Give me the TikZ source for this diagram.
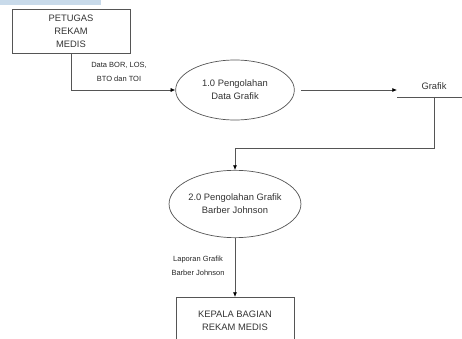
\documentclass[tikz,border=0pt]{standalone}
\usepackage{fontspec}
\setmainfont{Liberation Sans}
\usetikzlibrary{shapes.geometric, arrows.meta, positioning}
\definecolor{linegray}{HTML}{555555}
\definecolor{textgray}{HTML}{333333}
\definecolor{bandblue}{HTML}{C8DAEA}

\tikzset{
  entity/.style={draw=linegray, line width=0.6pt, minimum width=3.54cm, inner sep=0pt,
    align=center, text=textgray, font=\fontsize{8}{11}\selectfont},
  process/.style={ellipse, draw=linegray, line width=0.6pt, inner sep=0pt,
    minimum width=3.56cm, align=center, text=textgray, font=\fontsize{8}{11}\selectfont},
  flow/.style={draw=linegray, line width=0.6pt, -{Latex[length=4pt,width=3.5pt,black]}},
  flowlabel/.style={align=center, text=black!85, font=\fontsize{6.4}{12}\selectfont}
}

\begin{document}
\begin{tikzpicture}[x=0.03cm, y=-0.03cm]
  \useasboundingbox (0,0) rectangle (462,339);
  \clip (0,0) rectangle (462,339);
  % cut-off band at the top
  \fill[bandblue] (0,0) rectangle (101,5);

  % entities and processes
  \node[entity, minimum height=1.32cm] (petugas) at (71,31) {PETUGAS\\REKAM\\MEDIS};
  \node[process, minimum height=1.8cm] (p1) at (235,90) {1.0 Pengolahan\\Data Grafik};
  \node[process, minimum height=2.02cm] (p2) at (235,204) {2.0 Pengolahan Grafik\\Barber Johnson};
  \node[entity, minimum height=1.4cm, anchor=north] (kepala) at (235,297)
    {KEPALA BAGIAN\\REKAM MEDIS};

  % data store
  \node[text=textgray, font=\fontsize{8}{11}\selectfont] (grafik) at (434,86) {Grafik};
  \coordinate (storeL) at (397,97);
  \coordinate (storeR) at (462,97);
  \coordinate (storeB) at (434,97);
  \coordinate (bend) at (434,148);
  \draw[linegray, line width=0.6pt] (storeL) -- (storeR);

  % flows
  \draw[flow] (petugas.south) |- (p1.west);
  \draw[flow, shorten <=0.2cm] (p1.east) -- (storeL |- p1.east);
  \draw[flow] (storeB) -- (bend) -| (p2.north);
  \draw[flow] (p2.south) -- (kepala.north);

  % labels
  \node[flowlabel] (lbl1) at (119,72) {Data BOR, LOS,\\BTO dan TOI};
  \node[flowlabel] (lbl2) at (198,266) {Laporan Grafik\\Barber Johnson};
\end{tikzpicture}
\end{document}
